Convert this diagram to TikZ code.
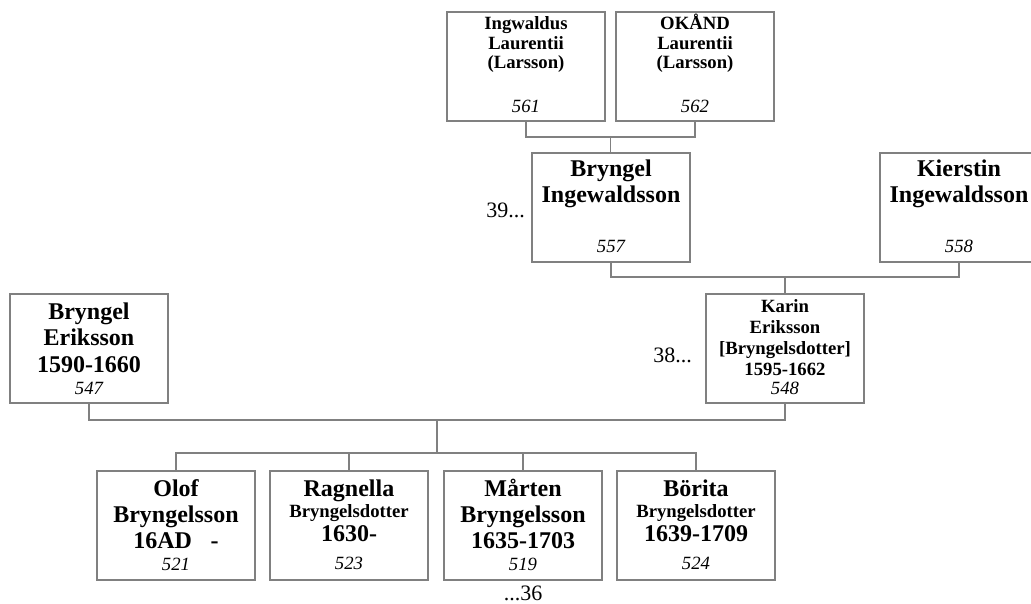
\documentclass[tikz,border=0pt]{standalone}
\usepackage{fontspec}
\setmainfont{Liberation Serif}
\definecolor{boxgray}{RGB}{128,128,128}
\newcommand{\pname}[1]{\smash{\fontsize{24}{0}\selectfont #1}}
\newcommand{\pline}[1]{\smash{#1}}
\newcommand{\pno}[1]{\smash{\mdseries\itshape #1}}
\setlength{\parindent}{0pt}

\begin{document}
\begin{tikzpicture}[x=1pt, y=-1pt, line join=miter,
	person/.style={draw=boxgray, line width=1.2pt, minimum width=158pt, minimum height=109pt, inner sep=0pt},
	ptext/.style={anchor=base, text width=156pt, align=center, inner sep=0pt, font=\fontsize{18.7}{0}\selectfont\bfseries},
	link/.style={draw=boxgray, line width=1.2pt},
	gen/.style={font=\fontsize{22}{0}\selectfont, inner sep=0pt}]
	\useasboundingbox (0,0) rectangle (1031,604);
	\clip (0,0) rectangle (1031,604);
	% great grandparents
	\node[person] (p561) at (526,66.5) {};
	\node[ptext] (t561) at (526,30) {\pline{Ingwaldus}\\[19.5pt]\pline{Laurentii}\\[19.5pt]\pline{(Larsson)}\\[44pt]\pno{561}};
	\node[person] (p562) at (695,66.5) {};
	\node[ptext] (t562) at (695,30) {\pline{OKÅND}\\[19.5pt]\pline{Laurentii}\\[19.5pt]\pline{(Larsson)}\\[44pt]\pno{562}};
	% grandparents
	\node[person] (p557) at (611,207.5) {};
	\node[ptext] (t557) at (611,177) {\pname{Bryngel}\\[26pt]\pname{Ingewaldsson}\\[50pt]\pno{557}};
	\node[person] (p558) at (959,207.5) {};
	\node[ptext] (t558) at (959,177) {\pname{Kierstin}\\[26pt]\pname{Ingewaldsson}\\[50pt]\pno{558}};
	% parents
	\node[person] (p547) at (89,348.5) {};
	\node[ptext] (t547) at (89,319) {\pname{Bryngel}\\[26pt]\pname{Eriksson}\\[27pt]\pname{1590-1660}\\[22pt]\pno{547}};
	\node[person] (p548) at (785,348.5) {};
	\node[ptext] (t548) at (785,312) {\pline{Karin}\\[21.5pt]\pline{Eriksson}\\[21.5pt]\pline{[Bryngelsdotter]}\\[20.5pt]\pline{1595-1662}\\[18.5pt]\pno{548}};
	% children
	\node[person] (p521) at (176,525.5) {};
	\node[ptext] (t521) at (176,496) {\pname{Olof}\\[26pt]\pname{Bryngelsson}\\[26pt]\pname{16AD~~~-}\\[22pt]\pno{521}};
	\node[person] (p523) at (349,525.5) {};
	\node[ptext] (t523) at (349,496) {\pname{Ragnella}\\[21pt]\pline{Bryngelsdotter}\\[24pt]\pname{1630-}\\[28pt]\pno{523}};
	\node[person] (p519) at (523,525.5) {};
	\node[ptext] (t519) at (523,496) {\pname{Mårten}\\[26pt]\pname{Bryngelsson}\\[26pt]\pname{1635-1703}\\[22pt]\pno{519}};
	\node[person] (p524) at (696,525.5) {};
	\node[ptext] (t524) at (696,496) {\pname{Börita}\\[21pt]\pline{Bryngelsdotter}\\[24pt]\pname{1639-1709}\\[28pt]\pno{524}};
	% generation marks
	\node[gen, anchor=base east] (g39) at (525,218) {39...};
	\node[gen, anchor=base east] (g38) at (692,362) {38...};
	\node[gen, anchor=base] (g36) at (523,600) {...36};
	% connectors
	\coordinate (j557) at (610.5,137);
	\draw[link] (p561.south) |- (j557) -| (p562.south);
	\draw[link] (j557) -- (j557 |- p557.north);
	\coordinate (j548) at (785,277);
	\draw[link] (p557.south) |- (j548) -| (p558.south);
	\draw[link] (j548) -- (p548.north);
	\coordinate (j519) at (437,420);
	\draw[link] (p547.south) |- (j519) -| (p548.south);
	\coordinate (k519) at (437,453);
	\draw[link] (j519) -- (k519);
	\draw[link] (p521.north) |- (k519) -| (p524.north);
	\foreach \c in {p523,p519}
		\draw[link] (k519 -| \c.north) -- (\c.north);
\end{tikzpicture}
\end{document}
